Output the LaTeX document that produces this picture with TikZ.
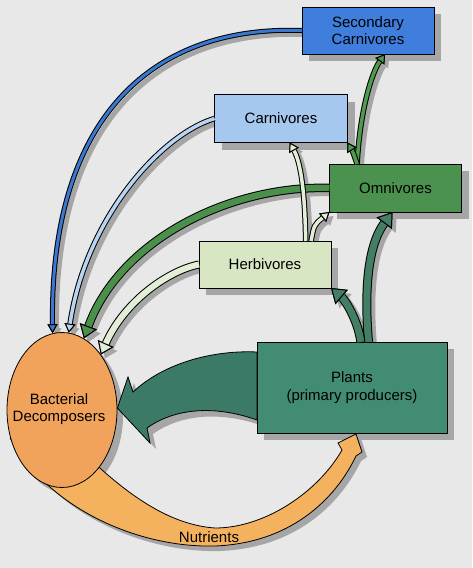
\documentclass[tikz,border=0pt]{standalone}
\usepackage{fontspec}
\setmainfont{Liberation Sans}
\usetikzlibrary{arrows.meta,shapes.geometric,calc}
\pgfdeclarelayer{bg}
\pgfdeclarelayer{shad}
\pgfdeclarelayer{under}
\pgfsetlayers{bg,shad,under,main}
\definecolor{bgcol}{HTML}{E8E8E8}
\definecolor{shadowgray}{HTML}{A6A6A6}
\definecolor{secblue}{HTML}{3F7EDC}
\definecolor{carblue}{HTML}{A7C8EE}
\definecolor{omngreen}{HTML}{4B9150}
\definecolor{herbpale}{HTML}{D8E6C4}
\definecolor{plantcol}{HTML}{428C74}
\definecolor{bacorange}{HTML}{F1A35C}
\definecolor{nutorange}{HTML}{F4B25E}
\definecolor{blueline}{HTML}{3A78D0}
\definecolor{lightblueline}{HTML}{B8D4F0}
\definecolor{greenline}{HTML}{4A8F4A}
\definecolor{thingreen}{HTML}{4E9A4E}
\definecolor{paleline}{HTML}{E2EED5}
\definecolor{plantline}{HTML}{437F64}
\definecolor{bigarrow}{HTML}{3A7A66}
\newcommand{\flowarrow}[5]{%
  \begin{pgfonlayer}{shad}
    \begin{scope}[transform canvas={xshift=4pt,yshift=-4pt}]
      \draw[shadowgray, line width=#2pt+2pt, -{Triangle[length=#3pt,width=#4pt,line width=0pt 0 0]}] #5;
    \end{scope}
  \end{pgfonlayer}
  \draw[black, line width=#2pt+2pt, -{Triangle[length=#3pt,width=#4pt,line width=0pt 0 0]}] #5;
  \draw[#1, line width=#2pt, -{Triangle[length=#3pt,width=#4pt,fill=#1,color=black,line width=1pt 0 0]}] #5;
}
\newcommand{\boxshadow}[1]{%
  \begin{pgfonlayer}{shad}
    \fill[shadowgray] ($(#1.south west)+(7,7)$) rectangle ($(#1.north east)+(7,7)$);
  \end{pgfonlayer}
}
\tikzset{
  lbl/.style={font=\fontsize{15}{17.5}\selectfont, align=center, text=black},
  boxnode/.style={lbl, draw=black, line width=0.8pt, rectangle, inner sep=0pt, outer sep=0pt},
  outl/.style={draw=black, line width=0.8pt},
}
\begin{document}
\begin{tikzpicture}[x=1pt,y=-1pt]
\useasboundingbox (0,0) rectangle (472,568);
\begin{pgfonlayer}{bg}
  \fill[bgcol] (0,0) rectangle (472,568);
\end{pgfonlayer}

% nodes
\node[boxnode, fill=secblue, minimum width=132, minimum height=47] (sec) at (368,30.5) {Secondary\\Carnivores};
\node[boxnode, fill=carblue, minimum width=133, minimum height=48] (car) at (281,118.5) {Carnivores};
\node[boxnode, fill=omngreen, minimum width=132, minimum height=48] (omn) at (395.5,188) {Omnivores};
\node[boxnode, fill=herbpale, minimum width=132, minimum height=47] (her) at (265,264.5) {Herbivores};
\node[boxnode, fill=plantcol, minimum width=190, minimum height=91] (pla) at (352,387.5) {Plants\\(primary producers)};
\node[ellipse, outl, fill=bacorange, minimum width=110, minimum height=155, inner sep=0pt] (bac) at (62,410) {};
\node[lbl] (baclbl) at (59,409) {Bacterial\\Decomposers};

\boxshadow{sec}
\boxshadow{car}
\boxshadow{omn}
\boxshadow{her}
\boxshadow{pla}
\begin{pgfonlayer}{shad}
  \fill[shadowgray] ($(bac.center)+(6,6)$) ellipse [x radius=55, y radius=77.5];
\end{pgfonlayer}

% nutrients band (under the ellipse)
\def\nutpath{(bac.303) .. controls (130,495) and (170,525) .. (215,528) .. controls (265,528) and (318,492) .. (342,450) -- (338,443) -- (356,434) -- (362,452) -- (356,456) .. controls (335,500) and (290,543) .. (215,546) .. controls (140,548) and (50,510) .. (bac.209) -- cycle}
\begin{pgfonlayer}{shad}
  \begin{scope}[transform canvas={xshift=5pt,yshift=-5pt}]
    \fill[shadowgray] \nutpath;
  \end{scope}
\end{pgfonlayer}
\begin{pgfonlayer}{under}
  \path[fill=nutorange, outl] \nutpath;
\end{pgfonlayer}
\node[lbl] (nut) at (209,537) {Nutrients};

% big arrow plants -> bacteria
\def\bigpath{($(pla.north west)+(0,10)$) .. controls (215,350) and (165,362) .. (133,392) -- (128,377) -- (bac.2) -- (150,443) -- (147,428) .. controls (175,408) and (215,405) .. ($(pla.south west)+(0,-13)$) -- cycle}
\begin{pgfonlayer}{shad}
  \begin{scope}[transform canvas={xshift=6pt,yshift=-6pt}]
    \fill[shadowgray] \bigpath;
  \end{scope}
\end{pgfonlayer}
\path[fill=bigarrow, outl] \bigpath;

% flows to decomposers
\flowarrow{blueline}{3}{9}{10}{(sec.west) .. controls (150,25) and (50,120) .. (bac.97)}
\flowarrow{lightblueline}{3.5}{9}{11}{(car.west) .. controls (160,135) and (85,220) .. (bac.85)}
\flowarrow{greenline}{6.5}{13}{18}{(omn.west) .. controls (230,185) and (120,240) .. (bac.73)}
\flowarrow{paleline}{6}{12}{17}{(her.west) .. controls (170,270) and (125,300) .. (bac.55)}
% food chain flows
\flowarrow{thingreen}{3.5}{9}{11}{(omn.148) .. controls (360,110) and (372,72) .. (sec.306)}
\flowarrow{thingreen}{3.5}{9}{11}{(omn.148) .. controls (353,152) .. (car.south east)}
\flowarrow{paleline}{3.5}{9}{11}{(her.30) .. controls (305,200) and (302,165) .. (car.290)}
\flowarrow{paleline}{3.5}{9}{11}{(her.27) .. controls (314,225) .. (omn.south west)}
\flowarrow{plantline}{7}{14}{19}{(pla.70) .. controls (364,290) and (368,245) .. (omn.263)}
\flowarrow{plantline}{7}{14}{19}{(pla.79) .. controls (358,320) and (345,300) .. (her.south east)}
\end{tikzpicture}
\end{document}
